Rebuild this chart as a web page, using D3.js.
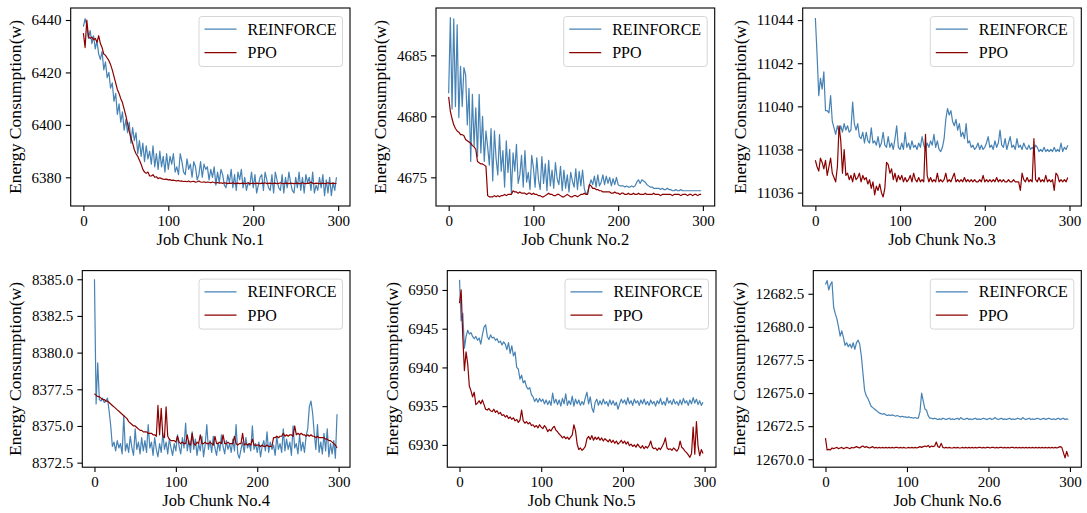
<!DOCTYPE html>
<html><head><meta charset="utf-8">
<script src="https://cdn.jsdelivr.net/npm/d3@7"></script>
<style>body{margin:0;background:#fff}</style>
</head><body><svg id="c" width="1087" height="513"></svg>
<script>
// job chunk index of each stored value (every second job chunk, 0..298)
const jobIndex = d3.range(0, 300, 2);

const reinforce1 = [
6437.5,6440.5,6438,6433,6436,6431,6434,6429,6432,6427,
6425,6428,6421,6424,6418,6420,6414,6416,6409,6412,
6404,6408,6401,6405,6398,6402,6397,6401,6393,6399,
6394,6397,6389,6394,6388,6393,6386,6392,6387,6390,
6385,6392,6384,6389,6383,6390,6384,6388,6382,6389,
6383,6388,6385,6389,6382,6384,6381,6389,6386,6382,
6381,6387,6383,6385,6380,6386,6384,6379,6381,6386,
6380,6385,6383,6384,6379,6383,6380,6384,6377,6382,
6378,6383,6381,6377,6376,6381,6378,6383,6376,6381,
6375,6382,6379,6383,6376,6380,6375,6378,6377,6382,
6376,6381,6374,6377,6380,6381,6375,6382,6379,6376,
6375,6381,6374,6382,6379,6376,6375,6381,6374,6380,
6376,6382,6378,6375,6374,6380,6376,6382,6375,6380,
6374,6381,6378,6380,6375,6382,6374,6377,6375,6380,
6376,6381,6373,6379,6374,6380,6373,6378,6375,6380];
const ppo1 = [
6435,6429.5,6440,6433.5,6433,6433.5,6432.5,6433,6431.5,6434,
6431,6429.5,6427,6426.5,6425.5,6424.5,6423,6421,6418.5,6416,
6413.5,6412,6410,6408.5,6406,6403.5,6400.5,6397.5,6395,6393,
6390.5,6389,6388,6386.5,6385,6383,6382,6381.5,6382,6380.5,
6380.5,6381,6380,6380.2,6379.5,6379.8,6379.5,6379.3,6379.2,6379.3,
6379,6379.1,6378.8,6378.9,6378.7,6378.6,6378.8,6378.5,6378.6,6378.4,
6378.5,6378.3,6378.6,6378.2,6378.4,6378.5,6378.1,6378.3,6378.6,6378.2,
6378.1,6378.3,6378,6378.2,6378.1,6377.9,6378.2,6378,6377.9,6378,
6377.8,6377.9,6377.7,6377.9,6377.8,6377.6,6377.8,6377.7,6377.9,6377.6,
6377.7,6377.8,6377.6,6377.7,6377.8,6377.6,6377.7,6377.9,6377.6,6377.7,
6377.7,6377.6,6377.8,6377.7,6377.6,6377.8,6377.7,6377.9,6377.6,6377.7,
6377.8,6377.6,6377.7,6377.8,6377.6,6377.7,6377.9,6377.7,6377.6,6377.8,
6377.7,6377.6,6377.8,6377.7,6377.6,6377.7,6377.8,6377.6,6377.7,6377.9,
6377.7,6377.6,6377.8,6377.7,6378.2,6377.7,6377.6,6377.8,6377.7,6377.6,
6377.7,6377.8,6377.6,6377.7,6377.9,6377.6,6377.7,6377.8,6377.6,6377.7];

const reinforce2 = [
4681.9,4688.1,4680.6,4688,4680.8,4687.5,4679.9,4684.1,4680.8,4684,
4683.4,4679.3,4682.3,4676.3,4681.8,4677.6,4680.7,4676.7,4681.8,4677,
4680,4676.3,4678.8,4677.5,4676,4679,4674.7,4678.8,4676.5,4675.2,
4678.5,4675.5,4677.2,4674.2,4678,4675.4,4677.3,4673.7,4677,4675.5,
4677.7,4674.5,4675.2,4676.8,4674.2,4677.2,4674.6,4675.4,4674,4676.8,
4675.8,4674.2,4676.6,4674.8,4674,4676.7,4674.5,4676.1,4673.9,4676.4,
4674.3,4675.6,4674.1,4676.2,4674.9,4674.4,4675.9,4673.9,4675.6,4674.1,
4675.2,4673.8,4675.4,4674.7,4674.2,4675.7,4674,4675.5,4674.3,4675.6,
4674.1,4673.6,4673.8,4674.3,4674.8,4674.4,4675.1,4674.2,4675.2,4674.3,
4674.6,4675.2,4674.4,4675.1,4674.5,4675,4674.3,4674.9,4674.4,4675,
4674.4,4674.3,4674.3,4674.3,4674.2,4674.3,4674.2,4674.2,4674.3,4674.2,
4674.3,4674.6,4674.8,4674.5,4674.8,4674.7,4674.6,4674.4,4674.3,4674.2,
4674.2,4674.1,4674.1,4674.1,4674.1,4674,4674.1,4674,4674,4674.1,
4674,4674,4673.9,4673.9,4674,4673.9,4673.9,4674,4673.9,4673.9,
4673.9,4673.9,4673.9,4673.9,4673.9,4673.9,4673.9,4673.9,4673.9,4673.9];
const ppo2 = [
4681.6,4680.4,4679.8,4679.3,4679,4678.8,4678.7,4678.5,4678.5,4678.4,
4678.1,4678,4677.9,4677.8,4677.6,4677.5,4677.3,4676.3,4676.2,4676.1,
4676.1,4676,4675.9,4673.5,4673.4,4673.4,4673.4,4673.5,4673.4,4673.5,
4673.4,4673.5,4673.5,4673.6,4673.5,4673.6,4673.6,4673.6,4673.9,4673.8,
4673.8,4673.7,4673.8,4673.7,4673.7,4673.7,4673.6,4673.7,4673.7,4673.6,
4673.7,4673.6,4673.6,4673.5,4673.5,4673.4,4673.4,4673.5,4673.6,4673.7,
4673.6,4673.6,4673.5,4673.5,4673.6,4673.6,4673.5,4673.4,4673.4,4673.5,
4673.6,4673.5,4673.4,4673.4,4673.5,4673.5,4673.4,4673.5,4673.6,4673.6,
4673.7,4673.6,4673.6,4674.4,4674.3,4674.1,4674.1,4674,4674,4673.9,
4673.9,4673.8,4673.8,4673.8,4673.8,4673.8,4673.7,4673.7,4673.8,4673.7,
4673.7,4673.6,4673.7,4673.7,4673.6,4673.6,4673.7,4673.6,4673.6,4673.7,
4673.6,4673.6,4673.7,4673.6,4673.6,4673.6,4673.7,4673.6,4673.6,4673.6,
4673.6,4673.7,4673.6,4673.6,4673.6,4673.5,4673.6,4673.6,4673.6,4673.6,
4673.6,4673.6,4673.5,4673.6,4673.6,4673.6,4673.6,4673.5,4673.6,4673.6,
4673.6,4673.5,4673.6,4673.6,4673.5,4673.6,4673.6,4673.5,4673.6,4673.6];

const reinforce3 = [
11044.1,11042.4,11040.5,11041.3,11040.8,11041.6,11039.8,11039.8,11039.7,11040.5,
11039.3,11039,11038.7,11039.1,11038.8,11039.1,11038.8,11039.2,11038.9,11039.1,
11038.8,11038.9,11040.2,11039.2,11038.9,11039.2,11038.6,11038.5,11038.8,11038.3,
11038.8,11038.4,11038.3,11039,11038.3,11038.4,11038.2,11038.6,11038.1,11038.3,
11038.8,11038.2,11038.1,11038.6,11038.1,11038.3,11038,11038.5,11039.1,11038.1,
11038,11038.3,11038,11038.8,11038.1,11038.3,11038,11038.4,11038.1,11038.2,
11038,11038.3,11038.1,11038.6,11038.2,11038,11038.3,11038.1,11038.4,11038.2,
11038.7,11038.1,11038.4,11038,11037.9,11038.1,11038.5,11039.4,11039.9,11039.6,
11039.8,11039.3,11039.1,11039.4,11038.9,11039.2,11038.6,11038.8,11038.5,11039.2,
11038.3,11038.4,11038.1,11038.2,11038,11038.1,11038.3,11038,11038.2,11038,
11038.1,11038.3,11038.6,11038.1,11038.2,11038,11038.4,11038.1,11038.3,11038.9,
11038.2,11038.1,11038.5,11038,11038.3,11038.6,11038.1,11038.2,11038,11038.5,
11038.1,11038.2,11038,11038.3,11038.1,11038,11038.2,11038,11038.1,11038,
11038.2,11038.1,11037.9,11038,11037.9,11038.1,11037.9,11038,11037.9,11038,
11037.9,11038.1,11037.9,11038,11037.9,11038.3,11037.9,11038.1,11038,11038.2];
const ppo3 = [
11037.5,11037.2,11037,11037.6,11037.4,11037.1,11037.5,11036.8,11037.2,11037.6,
11036.9,11036.7,11036.5,11037.2,11039.1,11038.4,11036.9,11038,11036.8,11036.9,
11036.6,11036.8,11036.5,11036.9,11036.6,11036.7,11036.9,11036.5,11036.8,11036.6,
11036.7,11036.4,11036.6,11036.2,11036.5,11035.9,11036.3,11036.1,11036.4,11036,
11035.8,11036.2,11037.4,11037.3,11036.9,11037.1,11036.6,11036.9,11036.5,11036.8,
11036.6,11036.8,11036.5,11036.7,11036.5,11036.6,11036.8,11036.5,11036.9,11036.6,
11036.5,11036.7,11036.5,11036.6,11036.5,11038.7,11036.8,11036.5,11036.7,11036.5,
11036.6,11036.5,11036.9,11036.5,11036.6,11036.5,11036.6,11036.9,11036.5,11036.6,
11036.5,11036.7,11036.9,11036.5,11036.6,11036.5,11036.6,11036.5,11036.7,11036.5,
11036.6,11036.5,11036.6,11036.5,11036.6,11036.5,11036.5,11036.6,11036.5,11036.8,
11036.5,11036.6,11036.5,11036.6,11036.5,11036.6,11036.5,11036.7,11036.5,11036.6,
11036.5,11036.6,11036.5,11036.5,11036.6,11036.5,11036.5,11036.6,11036.5,11036.5,
11036.5,11036.1,11036.9,11036.6,11036.5,11036.7,11036.5,11036.6,11036.5,11038.5,
11036.6,11036.5,11036.7,11036.5,11036.6,11036.5,11036.8,11036.5,11036.6,11036.5,
11036.6,11036.1,11036.9,11036.8,11036.5,11036.6,11036.5,11036.6,11036.5,11036.7];

const reinforce4 = [
8385,8376.5,8379.3,8376.8,8376.7,8376.9,8376.6,8376.7,8376.9,8376,
8375,8373.6,8373.9,8373.3,8374,8373.5,8373.8,8373.1,8375.7,8373.3,
8373.8,8373.2,8374.3,8373.5,8373,8374.8,8373.4,8373.9,8373.1,8374.2,
8373.3,8374,8373.2,8375.1,8373.5,8373.9,8373,8374.2,8373.4,8372.9,
8373.8,8373.2,8374.5,8373.4,8373.9,8373.1,8374.1,8373.5,8373,8373.8,
8373.3,8374.4,8373.6,8373.1,8374.2,8373.5,8375.2,8373.3,8374,8373.2,
8374.6,8373.4,8374.1,8373,8373.8,8373.3,8374.3,8372.9,8373.7,8375.1,
8373.4,8374,8373.2,8374.3,8373.5,8373,8373.9,8373.3,8374.4,8373.6,
8373.1,8374,8373.4,8373.8,8373.2,8374.1,8373.3,8375.1,8373.1,8372.8,
8373.4,8373.9,8373.2,8374.2,8373.5,8373.8,8373.3,8375,8373.4,8373.8,
8373.2,8373.9,8372.9,8373.6,8374,8373.3,8374.6,8373.2,8373.9,8373.4,
8373.7,8373,8374.3,8373.4,8373.8,8373.2,8374.8,8373.3,8374.1,8373.4,
8373.9,8373,8375,8373.5,8373.8,8373.1,8374.4,8373.3,8373.9,8373.2,
8374.3,8374.8,8376.3,8376.7,8375.9,8374.5,8373.4,8375.1,8373.2,8373.9,
8373.1,8374.5,8373.3,8374.8,8372.9,8373.8,8373.1,8374,8372.8,8375.8];
const ppo4 = [
8377.2,8377.1,8377,8377,8376.9,8376.8,8376.8,8376.7,8376.7,8376.6,
8376.5,8376.4,8376.3,8376.2,8376.1,8376,8375.9,8375.8,8375.7,8375.6,
8375.5,8375.3,8375.2,8375.1,8375,8375,8374.9,8374.8,8374.7,8374.7,
8374.6,8374.6,8374.6,8374.5,8374.5,8374.5,8374.4,8374.4,8374.3,8376.4,
8374.4,8376.2,8374.3,8374.2,8376.3,8374.3,8374.1,8374,8374,8374,
8373.9,8374.3,8373.9,8373.8,8373.9,8373.8,8373.8,8374.4,8373.8,8373.7,
8374.5,8373.8,8373.7,8373.9,8373.8,8374.4,8373.8,8373.8,8373.9,8373.8,
8373.8,8373.9,8373.8,8373.7,8374.3,8373.8,8373.8,8373.9,8373.8,8374.4,
8373.8,8373.8,8373.9,8373.8,8373.8,8373.8,8374.3,8373.8,8373.7,8373.8,
8373.8,8374.5,8373.7,8373.8,8373.7,8373.8,8373.7,8374.1,8373.7,8373.7,
8373.7,8373.7,8373.6,8373.7,8373.6,8373.6,8373.7,8373.6,8373.6,8373.6,
8374.2,8374.2,8374.3,8374.2,8374.3,8374.3,8374.5,8374.3,8374.4,8374.3,
8374.4,8374.4,8374.3,8375,8374.4,8374.5,8374.4,8374.5,8374.4,8374.4,
8374.3,8374.4,8374.3,8374.4,8374.3,8374.3,8374.2,8374.3,8374.2,8374.2,
8374.2,8374.2,8374.1,8374.1,8374,8374,8373.9,8373.8,8373.7,8373.5];

const reinforce5 = [
6951.3,6946,6947,6942.5,6944,6944.8,6944.3,6944.5,6944,6943.7,
6944,6943.5,6943.8,6943,6944.2,6945.2,6945.5,6944,6943.6,6944.2,
6943.8,6943.9,6943.5,6943.7,6943.2,6943.4,6942.9,6943.3,6943,6942.3,
6943.2,6941.8,6942.8,6941.5,6942,6940,6939.8,6938.5,6939,6938,
6938.3,6937.5,6937.2,6937.4,6936.5,6936.2,6935.6,6936,6935.5,6936,
6935.6,6935.9,6935.3,6935.8,6935.2,6935.7,6935.1,6936.7,6935.4,6935.9,
6935.2,6935.8,6935,6936,6935.3,6936.6,6935.1,6935.7,6935.2,6936.3,
6935,6935.9,6935.3,6935.8,6935.1,6935.6,6935.2,6936.1,6936.8,6935.3,
6936.2,6934.8,6934.2,6935.5,6935.9,6935.1,6935.7,6935.2,6935.9,6935.3,
6935.6,6935,6935.8,6935.2,6935.7,6935.1,6935.5,6934.6,6935.3,6935.9,
6935.4,6935.8,6935.2,6936.1,6935.3,6935.7,6935.1,6935.9,6935.4,6935.7,
6935.1,6935.8,6935.3,6935.9,6935.2,6935.6,6935.1,6935.8,6935.3,6935.6,
6935,6935.7,6935.3,6936,6935.2,6935.6,6935.1,6936.1,6935.4,6935.7,
6935.2,6935.9,6935.3,6935.6,6935.1,6935.8,6935.2,6936,6935.4,6935.7,
6935.1,6935.8,6935.3,6936.1,6935.4,6935.9,6935.2,6935.7,6935.1,6935.5];
const ppo5 = [
6948.3,6950,6944,6939.6,6942,6940.5,6937.6,6937,6936.2,6936.8,
6935.2,6935.4,6935.7,6935.3,6935.8,6935.2,6934.6,6934.5,6934.7,6934.4,
6934.3,6934.6,6934.2,6934.4,6934,6934.2,6933.8,6933.9,6933.6,6933.8,
6933.4,6933.6,6933.3,6933.5,6933.1,6933.3,6932.9,6933.2,6934.5,6933.1,
6932.8,6933,6932.7,6932.9,6932.5,6932.6,6932.3,6932.5,6932.2,6932.6,
6932.3,6932.1,6932.5,6932.2,6931.7,6932,6931.8,6932.2,6932.4,6931.9,
6931.7,6931.4,6931.2,6930.9,6931.1,6930.8,6931,6930.7,6931,6931.3,
6932.6,6931.8,6930.1,6929.4,6929.6,6929.3,6929.5,6929.8,6930.8,6931.1,
6930.7,6931.2,6930.6,6931,6930.7,6931,6930.6,6930.9,6930.5,6930.8,
6930.6,6930.4,6930.7,6930.3,6930.6,6930.2,6930.5,6930.1,6930.3,6930.6,
6930.2,6930.5,6930.1,6930.4,6929.9,6930.1,6929.8,6930,6929.7,6930.1,
6929.8,6929.6,6929.9,6929.5,6929.8,6929.6,6929.9,6930.5,6929.7,6929.5,
6929.6,6929.3,6929.6,6929.4,6929.8,6930.2,6930.9,6929.6,6929.4,6929.5,
6929.3,6929.6,6929.4,6929.2,6929.5,6930.5,6929.7,6929.5,6929.2,6929,
6928.7,6928.4,6928.9,6932.3,6928.8,6933,6929.8,6928.6,6929.4,6928.9];

const reinforce6 = [
12683.2,12683.5,12682.8,12683.2,12683.4,12681.5,12681,12680.6,12680,12679.3,
12679.7,12679.2,12678.6,12678.8,12678.5,12678.7,12678.4,12678.8,12678.3,12678.8,
12679,12678.7,12677.8,12676.5,12675.2,12674.8,12674.6,12674.3,12674,12673.9,
12673.8,12673.7,12673.6,12673.5,12673.45,12673.4,12673.45,12673.35,12673.3,12673.35,
12673.3,12673.35,12673.3,12673.25,12673.3,12673.25,12673.2,12673.25,12673.2,12673.2,
12673.15,12673.2,12673.15,12673.15,12673.1,12673.15,12673.1,12673.1,12673.6,12675,
12674.4,12673.8,12673.7,12673.3,12673.1,12673.1,12673.05,12673.1,12673.05,12673,
12673.05,12673,12673.1,12673.05,12673,12673.05,12673.1,12673,12673.05,12673,
12673.05,12673.1,12673,12673.15,12673.05,12673,12673.05,12673.1,12673,12673.05,
12673,12673.05,12673.1,12673,12673.05,12673,12673.05,12673.1,12673.05,12673,
12673.05,12673.1,12673,12673.05,12673.15,12673.05,12673,12673.05,12673.1,12673,
12673.05,12673,12673.05,12673.1,12673,12673.05,12673,12673.05,12673.1,12673.05,
12673,12673.15,12673.05,12673,12673.05,12673.1,12673,12673.05,12673,12673.05,
12673.1,12673.05,12673,12673.05,12673.1,12673,12673.05,12673.1,12673.05,12673,
12673.05,12673,12673.05,12673.1,12673,12673.05,12673.1,12673,12673.05,12673];
const ppo6 = [
12671.6,12670.7,12670.75,12670.7,12670.85,12670.8,12670.85,12670.9,12670.8,12670.85,
12670.9,12670.8,12670.85,12670.9,12670.85,12670.8,12670.9,12670.85,12670.9,12670.95,
12670.9,12670.85,12670.95,12671,12670.9,12670.95,12670.9,12670.85,12670.9,12670.95,
12670.85,12670.9,12670.85,12670.9,12670.85,12670.9,12670.85,12670.9,12670.85,12670.9,
12670.85,12670.9,12670.85,12670.9,12670.9,12670.85,12670.9,12670.85,12670.9,12670.85,
12670.85,12670.9,12670.85,12670.9,12670.85,12670.9,12670.85,12670.9,12670.95,12670.9,
12670.95,12671,12670.95,12671.05,12670.9,12671,12670.95,12671,12671.3,12670.95,
12670.9,12671.2,12670.9,12670.85,12670.9,12670.85,12670.9,12670.85,12670.85,12670.9,
12670.85,12670.9,12670.85,12670.85,12670.9,12670.85,12670.9,12670.85,12670.9,12670.85,
12670.9,12670.85,12670.9,12670.85,12670.9,12670.9,12670.85,12670.9,12670.85,12670.9,
12670.9,12670.85,12670.9,12670.9,12670.85,12670.9,12670.85,12670.9,12670.9,12670.85,
12670.9,12670.85,12670.9,12670.85,12670.9,12670.9,12670.85,12670.9,12670.85,12670.9,
12670.85,12670.9,12670.85,12670.9,12670.85,12670.9,12670.85,12670.9,12670.85,12670.9,
12670.85,12670.9,12670.85,12670.9,12670.85,12670.9,12670.85,12670.9,12670.85,12670.9,
12670.85,12670.9,12670.85,12670.9,12670.95,12670.9,12670.5,12670.1,12670.6,12670.2];

const seriesNames = ["REINFORCE", "PPO"];
const chunkLabels = ["Job Chunk No.1","Job Chunk No.2","Job Chunk No.3","Job Chunk No.4","Job Chunk No.5","Job Chunk No.6"];
const yAxisTitle = "Energy Consumption(w)";
const xTicks = [0, 100, 200, 300];
const yTicks1 = [6380, 6400, 6420, 6440];
const yTicks2 = [4675, 4680, 4685];
const yTicks3 = [11036, 11038, 11040, 11042, 11044];
const yTicks4 = [8372.5, 8375.0, 8377.5, 8380.0, 8382.5, 8385.0];
const yTicks5 = [6930, 6935, 6940, 6945, 6950];
const yTicks6 = [12670.0, 12672.5, 12675.0, 12677.5, 12680.0, 12682.5];

// layout (axis limits and plot rectangles)
const xLimits = [-14.95, 313.95];
const panels = [
  {re: reinforce1, ppo: ppo1, ticks: yTicks1, ylim: [6369.05, 6444.58], rect: [70.7, 8, 350, 206], fmt: d3.format("d")},
  {re: reinforce2, ppo: ppo2, ticks: yTicks2, ylim: [4672.65, 4688.88], rect: [436, 8, 714.7, 206], fmt: d3.format("d")},
  {re: reinforce3, ppo: ppo3, ticks: yTicks3, ylim: [11035.38, 11044.56], rect: [802.7, 8, 1081.3, 206], fmt: d3.format("d")},
  {re: reinforce4, ppo: ppo4, ticks: yTicks4, ylim: [8372.19, 8385.59], rect: [82.3, 270.6, 350, 467.2], fmt: d3.format(".1f")},
  {re: reinforce5, ppo: ppo5, ticks: yTicks5, ylim: [6927.12, 6952.5], rect: [447.3, 270.6, 716, 467.2], fmt: d3.format("d")},
  {re: reinforce6, ppo: ppo6, ticks: yTicks6, ylim: [12669.4, 12684.25], rect: [813.3, 270.6, 1081.3, 467.2], fmt: d3.format(".1f")}
];
const colors = ["#4682b4", "#8b0000"];
const FONT = "'Liberation Serif', 'Times New Roman', serif";

const svg = d3.select("#c");
panels.forEach((p, k) => {
  const [l, t, r, b] = p.rect;
  const x = d3.scaleLinear().domain(xLimits).range([l, r]);
  const y = d3.scaleLinear().domain(p.ylim).range([b, t]);
  const g = svg.append("g");
  const line = d3.line().x((d, i) => x(jobIndex[i])).y(d => y(d));
  [p.re, p.ppo].forEach((s, j) => {
    g.append("path").datum(s).attr("d", line).attr("fill", "none")
      .attr("stroke", colors[j]).attr("stroke-width", 1.2).attr("stroke-linejoin", "round");
  });
  const xa = g.append("g").attr("transform", `translate(0,${b})`)
    .call(d3.axisBottom(x).tickValues(xTicks).tickSize(4.9).tickPadding(4.2).tickFormat(d3.format("d")));
  const ya = g.append("g").attr("transform", `translate(${l},0)`)
    .call(d3.axisLeft(y).tickValues(p.ticks).tickSize(4.9).tickPadding(4.2).tickFormat(p.fmt));
  [xa, ya].forEach(a => {
    a.select(".domain").remove();
    a.selectAll("line").attr("stroke", "#000").attr("stroke-width", 1.1);
    a.selectAll("text").attr("font-family", FONT).attr("font-size", 15).attr("fill", "#000");
  });
  g.append("rect").attr("x", l).attr("y", t).attr("width", r - l).attr("height", b - t)
    .attr("fill", "none").attr("stroke", "#000").attr("stroke-width", 1.1);
  // x label
  g.append("text").attr("x", (l + r) / 2).attr("y", b + 39).attr("text-anchor", "middle")
    .attr("font-family", FONT).attr("font-size", 16.5).text(chunkLabels[k]);
  // y label (placed left of the tick labels)
  const bb = ya.node().getBBox();
  const cx = l + bb.x - 10.5;
  const cy = (t + b) / 2;
  g.append("text").attr("transform", `translate(${cx},${cy}) rotate(-90)`).attr("text-anchor", "middle")
    .attr("font-family", FONT).attr("font-size", 17.6).text(yAxisTitle);
  // legend
  const lw = 143.5, lh = 50;
  const lx = r - 7.5 - lw, ly = t + 8.5;
  const lg = g.append("g");
  lg.append("rect").attr("x", lx).attr("y", ly).attr("width", lw).attr("height", lh).attr("rx", 3)
    .attr("fill", "#fff").attr("fill-opacity", 0.8).attr("stroke", "#d6d6d6").attr("stroke-width", 1);
  seriesNames.forEach((n, j) => {
    const yy = ly + 12.7 + j * 23.4;
    lg.append("line").attr("x1", lx + 5.5).attr("x2", lx + 37.5).attr("y1", yy).attr("y2", yy)
      .attr("stroke", colors[j]).attr("stroke-width", 1.2);
    lg.append("text").attr("x", lx + 48.5).attr("y", yy).attr("dy", "0.35em")
      .attr("font-family", FONT).attr("font-size", 16).text(n);
  });
});
</script></body></html>
